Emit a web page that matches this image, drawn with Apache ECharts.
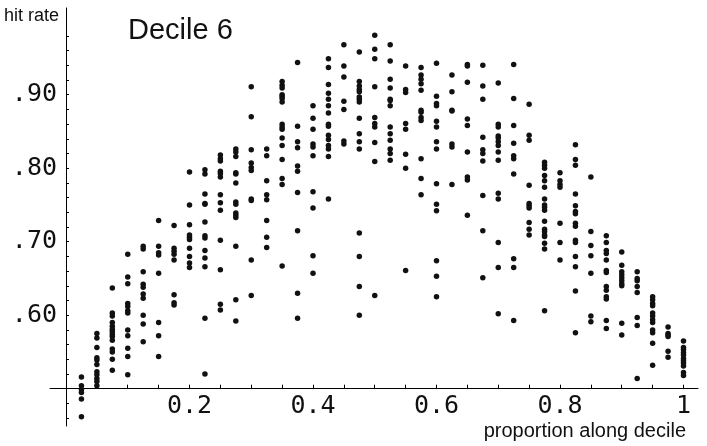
<!DOCTYPE html>
<html>
<head>
<meta charset="utf-8">
<script src="https://cdn.jsdelivr.net/npm/echarts@6/dist/echarts.min.js"></script>
<style>html,body{margin:0;padding:0;background:#fff}#c{width:707px;height:446px}</style>
</head>
<body>
<div id="c"></div>
<script>
// proportion along decile (one column of points per value)
const proportions = [0.025,0.05,0.075,0.1,0.125,0.15,0.175,0.2,0.225,0.25,0.275,0.3,0.325,0.35,0.375,0.4,0.425,0.45,0.475,0.5,0.525,0.55,0.575,0.6,0.625,0.65,0.675,0.7,0.725,0.75,0.775,0.8,0.825,0.85,0.875,0.9,0.925,0.95,0.975,1.0];
// hit rates for each column
const hitRates = [
  [0.516,0.504,0.499,0.495,0.486,0.462],
  [0.575,0.569,0.556,0.542,0.539,0.533,0.523,0.519,0.514,0.510,0.504],
  [0.637,0.603,0.599,0.590,0.585,0.581,0.578,0.574,0.571,0.566,0.554,0.550,0.540,0.525],
  [0.683,0.652,0.643,0.616,0.612,0.606,0.603,0.580,0.572,0.555,0.544,0.519],
  [0.694,0.690,0.659,0.642,0.638,0.629,0.623,0.600,0.588,0.564],
  [0.729,0.694,0.685,0.682,0.657,0.590,0.572,0.544],
  [0.722,0.691,0.687,0.683,0.675,0.628,0.617,0.614],
  [0.795,0.750,0.723,0.709,0.706,0.703,0.691,0.680,0.671,0.665],
  [0.798,0.792,0.765,0.752,0.751,0.727,0.708,0.705,0.688,0.678,0.666,0.596,0.520],
  [0.818,0.813,0.810,0.796,0.793,0.788,0.764,0.753,0.743,0.702,0.662,0.615,0.607],
  [0.826,0.822,0.816,0.794,0.792,0.780,0.754,0.751,0.739,0.736,0.733,0.694,0.621,0.592],
  [0.911,0.870,0.825,0.807,0.801,0.797,0.758,0.756,0.675,0.627],
  [0.826,0.817,0.783,0.764,0.757,0.729,0.706,0.692],
  [0.918,0.913,0.909,0.900,0.898,0.895,0.890,0.860,0.856,0.853,0.841,0.831,0.812,0.786,0.778,0.667],
  [0.944,0.857,0.836,0.828,0.803,0.796,0.767,0.715,0.630,0.596],
  [0.885,0.868,0.853,0.833,0.829,0.817,0.768,0.746,0.681,0.657],
  [0.949,0.937,0.914,0.902,0.894,0.885,0.875,0.860,0.857,0.845,0.839,0.831,0.826,0.816,0.758],
  [0.968,0.939,0.924,0.891,0.880,0.837,0.833],
  [0.958,0.918,0.912,0.907,0.904,0.897,0.894,0.890,0.868,0.847,0.836,0.826,0.712,0.680,0.639,0.600],
  [0.981,0.962,0.949,0.911,0.869,0.861,0.856,0.835,0.809,0.627],
  [0.968,0.946,0.921,0.909,0.894,0.892,0.885,0.856,0.847,0.838,0.826,0.820,0.811],
  [0.939,0.907,0.903,0.861,0.853,0.819,0.800,0.661],
  [0.937,0.927,0.921,0.915,0.906,0.879,0.876,0.869,0.865,0.813,0.786,0.764],
  [0.943,0.898,0.888,0.885,0.864,0.856,0.836,0.826,0.779,0.751,0.742,0.674,0.653,0.625],
  [0.927,0.904,0.879,0.878,0.833,0.829,0.778],
  [0.941,0.939,0.917,0.867,0.858,0.822,0.788,0.784,0.736],
  [0.940,0.912,0.894,0.842,0.825,0.820,0.810,0.763,0.715,0.651],
  [0.916,0.860,0.856,0.844,0.841,0.836,0.831,0.822,0.811,0.766,0.758,0.699,0.665,0.602],
  [0.941,0.895,0.858,0.834,0.817,0.813,0.792,0.677,0.665,0.593],
  [0.887,0.845,0.838,0.777,0.752,0.749,0.746,0.726,0.717,0.709],
  [0.808,0.804,0.800,0.790,0.783,0.774,0.758,0.750,0.747,0.743,0.728,0.717,0.714,0.709,0.707,0.698,0.690,0.606],
  [0.794,0.783,0.778,0.774,0.725,0.699,0.675],
  [0.832,0.812,0.804,0.765,0.749,0.741,0.738,0.725,0.721,0.702,0.699,0.680,0.666,0.633,0.576],
  [0.788,0.714,0.695,0.681,0.657,0.599,0.591],
  [0.708,0.699,0.688,0.684,0.675,0.661,0.658,0.639,0.634,0.625,0.622,0.593,0.582],
  [0.686,0.668,0.659,0.655,0.651,0.647,0.643,0.640,0.589,0.573],
  [0.659,0.650,0.647,0.639,0.631,0.597,0.586,0.514],
  [0.625,0.621,0.616,0.613,0.603,0.599,0.594,0.590,0.580,0.576,0.562,0.532],
  [0.584,0.575,0.573,0.571,0.551,0.543],
  [0.565,0.556,0.553,0.549,0.546,0.541,0.538,0.535,0.531,0.522,0.518]
];
// tick values and labels
const xTickValues = [0.05,0.1,0.15,0.2,0.25,0.3,0.35,0.4,0.45,0.5,0.55,0.6,0.65,0.7,0.75,0.8,0.85,0.9,0.95,1.0];
const xLabelValues = [0.2,0.4,0.6,0.8,1.0];
const xLabelTexts = ['0.2','0.4','0.6','0.8','1'];
const yTickValues = [0.46,0.48,0.50,0.52,0.54,0.56,0.58,0.60,0.62,0.64,0.66,0.68,0.70,0.72,0.74,0.76,0.78,0.80,0.82,0.84,0.86,0.88,0.90,0.92,0.94,0.96,0.98];
const yLabelValues = [0.6,0.7,0.8,0.9];
const yLabelTexts = ['.60','.70','.80','.90'];

const X_MIN = -0.0259, X_MAX = 1.0235;
const Y_MIN = 0.4493, Y_MAX = 1.018;

const points = [];
proportions.forEach((p, i) => hitRates[i].forEach(h => points.push([p, h])));

function pick(values, texts, v) {
  let best = 0;
  values.forEach((x, i) => { if (Math.abs(x - v) < Math.abs(values[best] - v)) best = i; });
  return texts[best];
}

const chart = echarts.init(document.getElementById('c'));
chart.setOption({
  animation: false,
  backgroundColor: '#fff',
  grid: [
    {left: 66, right: 23.5, top: 8, bottom: 20, containLabel: false, outerBoundsMode: 'none'},
    {left: 50, right: 9, top: 8, bottom: 57.3, containLabel: false, outerBoundsMode: 'none'}
  ],
  xAxis: [
    {gridIndex: 0, type: 'value', min: 0, max: 1, show: false},
    {gridIndex: 1, type: 'value', min: X_MIN, max: X_MAX,
     axisLine: {show: true, onZero: false, lineStyle: {color: '#000', width: 1}},
     axisTick: {show: true, inside: true, length: 4, customValues: xTickValues, lineStyle: {color: '#000', width: 1}},
     axisLabel: {show: true, customValues: xLabelValues, formatter: v => pick(xLabelValues, xLabelTexts, v),
                 fontFamily: 'DejaVu Sans Mono', fontSize: 25, color: '#111', margin: 5},
     splitLine: {show: false}}
  ],
  yAxis: [
    {gridIndex: 0, type: 'value', min: Y_MIN, max: Y_MAX,
     axisLine: {show: true, onZero: false, lineStyle: {color: '#000', width: 1}},
     axisTick: {show: true, inside: true, length: 3, customValues: yTickValues, lineStyle: {color: '#000', width: 1}},
     axisLabel: {show: true, customValues: yLabelValues, formatter: v => pick(yLabelValues, yLabelTexts, v),
                 fontFamily: 'DejaVu Sans Mono', fontSize: 25, color: '#111', margin: 9},
     splitLine: {show: false}},
    {gridIndex: 1, type: 'value', min: 0, max: 1, show: false}
  ],
  series: [{
    type: 'scatter', xAxisIndex: 0, yAxisIndex: 0,
    data: points, symbol: 'circle', symbolSize: 5.5, clip: false,
    itemStyle: {color: '#111', opacity: 1}
  }],
  graphic: [
    {type: 'text', left: 4, top: 7, style: {text: 'hit rate', font: '18px "Liberation Sans"', fill: '#111'}},
    {type: 'text', left: 128, top: 16, style: {text: 'Decile 6', font: '29px "Liberation Sans"', fill: '#111'}},
    {type: 'text', right: 21, top: 421, style: {text: 'proportion along decile', font: '20px "Liberation Sans"', fill: '#111'}}
  ]
});
</script>
</body>
</html>
